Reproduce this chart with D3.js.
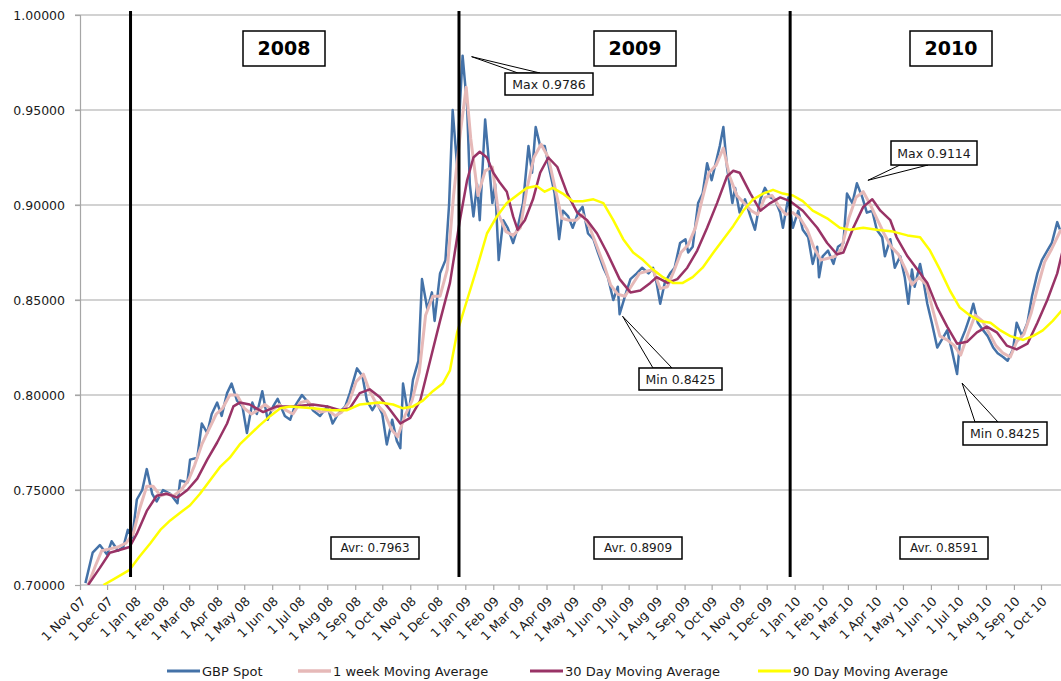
<!DOCTYPE html>
<html>
<head>
<meta charset="utf-8">
<script src="https://cdn.jsdelivr.net/npm/d3@7"></script>
<style>
  body { margin: 0; background: #fff; }
  svg { display: block; font-family: "DejaVu Sans", Verdana, sans-serif; }
</style>
</head>
<body>
<svg id="chart" width="1061" height="681"></svg>
<script>
// ── Data ──
const spot = [
  ["2007-11-07",0.701],["2007-11-15",0.717],["2007-11-23",0.721],["2007-12-01",0.716],["2007-12-06",0.723],
  ["2007-12-13",0.718],["2007-12-19",0.720],["2007-12-24",0.729],["2007-12-29",0.725],
  ["2008-01-03",0.745],["2008-01-09",0.750],["2008-01-14",0.761],["2008-01-20",0.748],["2008-01-25",0.744],
  ["2008-02-01",0.750],["2008-02-09",0.748],["2008-02-17",0.743],["2008-02-20",0.755],["2008-02-28",0.754],
  ["2008-03-02",0.766],["2008-03-10",0.767],["2008-03-15",0.785],["2008-03-21",0.780],["2008-03-26",0.790],
  ["2008-04-01",0.796],["2008-04-06",0.789],["2008-04-12",0.801],["2008-04-17",0.806],["2008-04-23",0.797],
  ["2008-04-29",0.794],["2008-05-04",0.780],["2008-05-10",0.796],["2008-05-15",0.790],["2008-05-21",0.802],
  ["2008-05-27",0.787],["2008-06-02",0.794],["2008-06-07",0.798],["2008-06-15",0.789],["2008-06-21",0.787],
  ["2008-06-26",0.794],["2008-07-04",0.800],["2008-07-11",0.796],["2008-07-16",0.792],["2008-07-24",0.789],
  ["2008-08-01",0.794],["2008-08-07",0.785],["2008-08-13",0.790],["2008-08-21",0.794],["2008-08-26",0.801],
  ["2008-09-03",0.814],["2008-09-09",0.810],["2008-09-14",0.797],["2008-09-20",0.792],["2008-09-25",0.796],
  ["2008-10-01",0.790],["2008-10-06",0.774],["2008-10-12",0.787],["2008-10-17",0.776],["2008-10-21",0.772],
  ["2008-10-24",0.806],["2008-10-30",0.789],["2008-11-04",0.808],["2008-11-10",0.818],["2008-11-14",0.861],
  ["2008-11-20",0.845],["2008-11-25",0.854],["2008-11-28",0.839],["2008-12-04",0.864],["2008-12-10",0.871],
  ["2008-12-14",0.900],["2008-12-18",0.950],["2008-12-23",0.920],["2008-12-26",0.952],["2008-12-29",0.9786],
  ["2009-01-03",0.952],["2009-01-06",0.911],["2009-01-10",0.894],["2009-01-14",0.911],["2009-01-17",0.892],
  ["2009-01-23",0.945],["2009-01-26",0.929],["2009-01-31",0.901],["2009-02-03",0.911],["2009-02-07",0.871],
  ["2009-02-12",0.892],["2009-02-17",0.888],["2009-02-23",0.880],["2009-02-28",0.888],["2009-03-06",0.901],
  ["2009-03-12",0.931],["2009-03-16",0.917],["2009-03-20",0.941],["2009-03-25",0.931],["2009-03-30",0.931],
  ["2009-04-05",0.917],["2009-04-10",0.906],["2009-04-15",0.882],["2009-04-19",0.897],["2009-04-25",0.894],
  ["2009-04-30",0.888],["2009-05-06",0.896],["2009-05-11",0.899],["2009-05-17",0.885],["2009-05-23",0.882],
  ["2009-05-28",0.875],["2009-06-03",0.867],["2009-06-08",0.862],["2009-06-14",0.850],["2009-06-19",0.857],
  ["2009-06-21",0.8425],["2009-06-27",0.852],["2009-07-03",0.861],["2009-07-10",0.864],["2009-07-16",0.867],
  ["2009-07-23",0.864],["2009-07-28",0.867],["2009-08-01",0.859],["2009-08-05",0.848],["2009-08-10",0.859],
  ["2009-08-16",0.864],["2009-08-21",0.867],["2009-08-27",0.880],["2009-09-02",0.882],["2009-09-05",0.875],
  ["2009-09-10",0.878],["2009-09-16",0.901],["2009-09-21",0.906],["2009-09-26",0.922],["2009-10-01",0.913],
  ["2009-10-07",0.925],["2009-10-10",0.931],["2009-10-14",0.941],["2009-10-18",0.920],["2009-10-24",0.901],
  ["2009-10-27",0.909],["2009-11-01",0.896],["2009-11-07",0.903],["2009-11-13",0.894],["2009-11-18",0.887],
  ["2009-11-24",0.903],["2009-11-29",0.909],["2009-12-05",0.904],["2009-12-10",0.903],["2009-12-16",0.896],
  ["2009-12-19",0.888],["2009-12-25",0.904],["2009-12-30",0.888],
  ["2010-01-05",0.897],["2010-01-10",0.887],["2010-01-16",0.883],["2010-01-21",0.869],["2010-01-26",0.878],
  ["2010-01-28",0.862],["2010-02-01",0.873],["2010-02-07",0.876],["2010-02-13",0.869],["2010-02-18",0.878],
  ["2010-02-24",0.880],["2010-02-28",0.906],["2010-03-06",0.901],["2010-03-11",0.9114],["2010-03-17",0.904],
  ["2010-03-22",0.896],["2010-03-28",0.897],["2010-04-02",0.887],["2010-04-08",0.883],["2010-04-11",0.873],
  ["2010-04-17",0.882],["2010-04-22",0.867],["2010-04-28",0.873],["2010-05-03",0.862],["2010-05-07",0.848],
  ["2010-05-11",0.866],["2010-05-14",0.857],["2010-05-20",0.869],["2010-05-23",0.862],["2010-05-28",0.848],
  ["2010-06-02",0.838],["2010-06-08",0.825],["2010-06-13",0.829],["2010-06-19",0.834],["2010-06-24",0.824],
  ["2010-06-30",0.811],["2010-07-03",0.827],["2010-07-09",0.834],["2010-07-14",0.841],["2010-07-18",0.848],
  ["2010-07-23",0.838],["2010-07-29",0.834],["2010-08-03",0.831],["2010-08-09",0.825],["2010-08-14",0.822],
  ["2010-08-20",0.820],["2010-08-25",0.818],["2010-08-31",0.824],["2010-09-04",0.838],["2010-09-10",0.831],
  ["2010-09-16",0.838],["2010-09-21",0.852],["2010-09-27",0.864],["2010-10-02",0.871],["2010-10-08",0.876],
  ["2010-10-13",0.880],["2010-10-19",0.891],["2010-10-22",0.887]
];

const weekMA = [
  ["2007-11-10",0.700],["2007-11-18",0.710],["2007-11-25",0.718],["2007-12-04",0.719],["2007-12-13",0.720],
  ["2007-12-22",0.722],["2007-12-30",0.727],["2008-01-06",0.740],["2008-01-14",0.752],["2008-01-21",0.752],
  ["2008-01-29",0.747],["2008-02-05",0.748],["2008-02-13",0.747],["2008-02-21",0.750],["2008-02-29",0.755],
  ["2008-03-07",0.763],["2008-03-15",0.774],["2008-03-23",0.782],["2008-03-31",0.790],["2008-04-07",0.793],
  ["2008-04-15",0.800],["2008-04-23",0.800],["2008-05-01",0.793],["2008-05-09",0.790],["2008-05-16",0.792],
  ["2008-05-24",0.795],["2008-06-01",0.792],["2008-06-09",0.795],["2008-06-16",0.792],["2008-06-24",0.790],
  ["2008-07-02",0.796],["2008-07-10",0.797],["2008-07-17",0.793],["2008-07-25",0.791],["2008-08-02",0.792],
  ["2008-08-10",0.789],["2008-08-17",0.791],["2008-08-25",0.796],["2008-09-02",0.807],["2008-09-10",0.811],
  ["2008-09-17",0.802],["2008-09-25",0.795],["2008-10-03",0.791],["2008-10-11",0.782],["2008-10-18",0.778],
  ["2008-10-26",0.789],["2008-11-03",0.797],["2008-11-11",0.812],["2008-11-18",0.842],["2008-11-26",0.852],
  ["2008-12-04",0.852],["2008-12-12",0.866],["2008-12-19",0.905],["2008-12-27",0.940],["2009-01-02",0.962],
  ["2009-01-07",0.935],["2009-01-15",0.905],["2009-01-23",0.918],["2009-01-31",0.920],["2009-02-07",0.895],
  ["2009-02-15",0.886],["2009-02-23",0.884],["2009-03-03",0.888],["2009-03-10",0.908],["2009-03-18",0.925],
  ["2009-03-26",0.932],["2009-04-03",0.925],["2009-04-10",0.910],["2009-04-18",0.893],["2009-04-26",0.892],
  ["2009-05-04",0.892],["2009-05-11",0.895],["2009-05-19",0.888],["2009-05-27",0.878],["2009-06-04",0.868],
  ["2009-06-11",0.858],["2009-06-19",0.853],["2009-06-27",0.852],["2009-07-05",0.858],["2009-07-13",0.864],
  ["2009-07-20",0.865],["2009-07-28",0.866],["2009-08-05",0.856],["2009-08-13",0.857],["2009-08-20",0.865],
  ["2009-08-28",0.875],["2009-09-05",0.879],["2009-09-13",0.888],["2009-09-20",0.902],["2009-09-28",0.917],
  ["2009-10-06",0.921],["2009-10-14",0.930],["2009-10-21",0.915],["2009-10-29",0.905],["2009-11-06",0.901],
  ["2009-11-14",0.897],["2009-11-21",0.895],["2009-11-29",0.904],["2009-12-07",0.905],["2009-12-15",0.899],
  ["2009-12-22",0.895],["2009-12-30",0.896],["2010-01-07",0.893],["2010-01-15",0.887],["2010-01-22",0.878],
  ["2010-01-30",0.871],["2010-02-07",0.872],["2010-02-15",0.873],["2010-02-22",0.877],["2010-03-02",0.893],
  ["2010-03-10",0.904],["2010-03-18",0.907],["2010-03-26",0.900],["2010-04-02",0.893],["2010-04-10",0.885],
  ["2010-04-18",0.878],["2010-04-26",0.874],["2010-05-03",0.867],["2010-05-11",0.858],["2010-05-19",0.862],
  ["2010-05-27",0.858],["2010-06-03",0.845],["2010-06-11",0.831],["2010-06-19",0.829],["2010-06-27",0.826],
  ["2010-07-04",0.821],["2010-07-12",0.832],["2010-07-20",0.842],["2010-07-28",0.839],["2010-08-04",0.833],
  ["2010-08-12",0.826],["2010-08-20",0.822],["2010-08-28",0.820],["2010-09-04",0.828],["2010-09-12",0.832],
  ["2010-09-20",0.843],["2010-09-28",0.858],["2010-10-05",0.870],["2010-10-13",0.877],["2010-10-23",0.887]
];

const ma30 = [
  ["2007-11-10",0.700],["2007-11-23",0.709],["2007-12-04",0.717],["2007-12-12",0.718],["2007-12-26",0.720],
  ["2008-01-03",0.727],["2008-01-14",0.739],["2008-01-25",0.747],["2008-02-05",0.748],["2008-02-17",0.746],
  ["2008-02-28",0.750],["2008-03-10",0.756],["2008-03-21",0.766],["2008-04-01",0.775],["2008-04-12",0.785],
  ["2008-04-19",0.794],["2008-04-26",0.796],["2008-05-07",0.795],["2008-05-22",0.791],["2008-06-06",0.794],
  ["2008-06-24",0.794],["2008-07-16",0.795],["2008-08-01",0.794],["2008-08-15",0.792],["2008-08-26",0.793],
  ["2008-09-06",0.801],["2008-09-17",0.803],["2008-09-28",0.799],["2008-10-10",0.792],["2008-10-21",0.785],
  ["2008-11-01",0.788],["2008-11-12",0.797],["2008-11-23",0.818],["2008-12-04",0.839],["2008-12-15",0.859],
  ["2008-12-26",0.892],["2009-01-03",0.913],["2009-01-10",0.925],["2009-01-17",0.928],["2009-01-25",0.925],
  ["2009-02-01",0.917],["2009-02-08",0.912],["2009-02-16",0.907],["2009-02-23",0.894],["2009-02-28",0.887],
  ["2009-03-08",0.892],["2009-03-17",0.903],["2009-03-25",0.917],["2009-04-03",0.925],["2009-04-13",0.920],
  ["2009-04-24",0.906],["2009-05-05",0.896],["2009-05-16",0.892],["2009-05-27",0.885],["2009-06-07",0.875],
  ["2009-06-21",0.861],["2009-07-03",0.854],["2009-07-14",0.855],["2009-07-25",0.859],["2009-08-01",0.862],
  ["2009-08-13",0.859],["2009-08-24",0.861],["2009-09-04",0.867],["2009-09-15",0.876],["2009-09-26",0.888],
  ["2009-10-07",0.901],["2009-10-18",0.915],["2009-10-25",0.918],["2009-11-01",0.917],["2009-11-13",0.906],
  ["2009-11-24",0.897],["2009-12-05",0.901],["2009-12-16",0.904],["2009-12-27",0.902],["2010-01-10",0.897],
  ["2010-01-26",0.888],["2010-02-06",0.880],["2010-02-17",0.874],["2010-02-24",0.875],["2010-03-07",0.888],
  ["2010-03-18",0.899],["2010-03-28",0.903],["2010-04-06",0.897],["2010-04-17",0.892],["2010-04-24",0.883],
  ["2010-05-06",0.873],["2010-05-17",0.866],["2010-05-28",0.859],["2010-06-08",0.846],["2010-06-19",0.836],
  ["2010-06-30",0.827],["2010-07-11",0.828],["2010-07-22",0.833],["2010-08-02",0.836],["2010-08-13",0.833],
  ["2010-08-24",0.826],["2010-09-04",0.824],["2010-09-16",0.827],["2010-09-27",0.838],["2010-10-08",0.850],
  ["2010-10-19",0.864],["2010-10-25",0.876]
];

const ma90 = [
  ["2007-11-27",0.700],["2007-12-08",0.703],["2007-12-26",0.708],["2008-01-06",0.715],["2008-01-18",0.722],
  ["2008-01-29",0.729],["2008-02-09",0.734],["2008-02-20",0.738],["2008-03-02",0.742],["2008-03-13",0.748],
  ["2008-03-24",0.755],["2008-04-04",0.762],["2008-04-15",0.767],["2008-04-26",0.774],["2008-05-07",0.779],
  ["2008-05-18",0.784],["2008-05-30",0.789],["2008-06-10",0.793],["2008-06-21",0.794],["2008-07-16",0.793],
  ["2008-08-07",0.792],["2008-08-23",0.792],["2008-09-06",0.795],["2008-09-28",0.796],["2008-10-13",0.795],
  ["2008-10-24",0.793],["2008-11-04",0.794],["2008-11-15",0.797],["2008-11-26",0.802],["2008-12-07",0.806],
  ["2008-12-15",0.813],["2008-12-23",0.833],["2009-01-03",0.850],["2009-01-14",0.867],["2009-01-25",0.885],
  ["2009-02-05",0.894],["2009-02-16",0.901],["2009-02-27",0.905],["2009-03-10",0.909],["2009-03-21",0.910],
  ["2009-03-30",0.907],["2009-04-08",0.909],["2009-04-19",0.906],["2009-04-30",0.902],["2009-05-11",0.902],
  ["2009-05-23",0.903],["2009-06-03",0.901],["2009-06-14",0.892],["2009-06-25",0.882],["2009-07-06",0.875],
  ["2009-07-17",0.871],["2009-07-28",0.866],["2009-08-08",0.862],["2009-08-19",0.859],["2009-08-30",0.859],
  ["2009-09-10",0.862],["2009-09-21",0.867],["2009-10-03",0.875],["2009-10-14",0.882],["2009-10-25",0.889],
  ["2009-11-05",0.897],["2009-11-16",0.903],["2009-11-27",0.906],["2009-12-08",0.908],["2009-12-19",0.906],
  ["2009-12-30",0.905],["2010-01-10",0.902],["2010-01-21",0.897],["2010-02-06",0.893],["2010-02-20",0.888],
  ["2010-03-03",0.887],["2010-03-18",0.888],["2010-04-02",0.887],["2010-04-20",0.886],["2010-05-06",0.884],
  ["2010-05-20",0.883],["2010-05-31",0.876],["2010-06-11",0.866],["2010-06-22",0.855],["2010-07-03",0.846],
  ["2010-07-14",0.842],["2010-07-25",0.839],["2010-08-06",0.838],["2010-08-17",0.834],["2010-08-28",0.831],
  ["2010-09-11",0.829],["2010-09-22",0.831],["2010-10-03",0.834],["2010-10-14",0.839],["2010-10-25",0.845]
];

const seriesNames = ["GBP Spot", "1 week Moving Average", "30 Day Moving Average", "90 Day Moving Average"];
const yTicks = [0.70, 0.75, 0.80, 0.85, 0.90, 0.95, 1.00];
const yearLabels = ["2008", "2009", "2010"];
const yearDividers = ["2007-12-27", "2008-12-25", "2009-12-27"];
const averageLabels = ["Avr: 0.7963", "Avr. 0.8909", "Avr. 0.8591"];
const callouts = [
  { label: "Max 0.9786", date: "2008-12-29", value: 0.9786 },
  { label: "Max 0.9114", date: "2010-03-11", value: 0.9114 },
  { label: "Min 0.8425", date: "2009-06-21", value: 0.8425 },
  { label: "Min 0.8425", date: "2010-06-30", value: 0.811 }
];

// ── Layout ──
const W = 1061, H = 681;
const plotLeft = 80, plotTop = 15, plotBottom = 585;
const colors = ["#4472A8", "#E6B9B8", "#993366", "#FFFF00"];
const widths = [2.5, 3, 2.5, 2.5];
const yearBoxX = [284, 635, 951];
const avgBoxX = [375, 638, 944];
const calloutLayout = [
  { dx: 9, dy: 1, box: [505, 73, 88, 22], base: [518, 540] },
  { dx: 11, dy: -3, box: [891, 141, 86, 24], base: [900, 928] },
  { dx: 3, dy: 2, box: [639, 368, 83, 22], base: [653, 672] },
  { dx: 5, dy: 9, box: [963, 422, 84, 23], base: [975, 998] }
];
const legendX = [167, 298, 530, 758];

const parse = d3.timeParse("%Y-%m-%d");
const svg = d3.select("#chart");

const x = d3.scaleTime()
  .domain([parse("2007-11-01"), parse("2010-10-01")])
  .range([plotLeft, 1041]);
const y = d3.scaleLinear().domain([0.70, 1.00]).range([plotBottom, plotTop]);

// ── Gridlines ──
svg.append("g")
  .selectAll("line")
  .data(yTicks.filter(v => v > 0.70))
  .join("line")
  .attr("x1", plotLeft - 5).attr("x2", W)
  .attr("y1", d => y(d)).attr("y2", d => y(d))
  .attr("stroke", "#A6A6A6").attr("stroke-width", 1.2);

// ── Y axis ──
const yAxis = svg.append("g")
  .attr("transform", `translate(${plotLeft},0)`)
  .call(d3.axisLeft(y).tickValues(yTicks).tickSize(5).tickFormat(d3.format(".5f")));
yAxis.select(".domain").attr("stroke", "#A6A6A6").attr("stroke-width", 1.2);
yAxis.selectAll(".tick line").attr("stroke", "#A6A6A6").attr("stroke-width", 1.2);
yAxis.selectAll("text")
  .attr("x", -15)
  .attr("font-size", 12.5)
  .attr("font-family", "DejaVu Sans, sans-serif")
  .attr("fill", "#1a1a1a");

// ── X axis ──
const monthTicks = d3.timeMonth.range(parse("2007-11-01"), parse("2010-10-02"));
const xAxis = svg.append("g")
  .attr("transform", `translate(0,${plotBottom})`)
  .call(d3.axisBottom(x).tickValues(monthTicks).tickSize(5).tickFormat(d3.timeFormat("%-d %b %y")));
xAxis.select(".domain").remove();
xAxis.append("line")
  .attr("x1", plotLeft).attr("x2", W).attr("y1", 0).attr("y2", 0)
  .attr("stroke", "#A6A6A6").attr("stroke-width", 1.2);
xAxis.selectAll(".tick line").attr("stroke", "#A6A6A6").attr("stroke-width", 1.2);
xAxis.selectAll("text")
  .attr("x", 0).attr("y", 0).attr("dy", "0.35em")
  .attr("text-anchor", "end")
  .attr("transform", "translate(3,14) rotate(-45)")
  .attr("font-size", 12.5)
  .attr("font-family", "DejaVu Sans, sans-serif")
  .attr("fill", "#1a1a1a");

// ── Series lines ──
svg.append("clipPath").attr("id", "plotClip")
  .append("rect").attr("x", plotLeft).attr("y", plotTop)
  .attr("width", W - plotLeft).attr("height", plotBottom - plotTop);

const line = d3.line()
  .x(d => x(parse(d[0])))
  .y(d => y(d[1]));

const plot = svg.append("g").attr("clip-path", "url(#plotClip)");
[spot, weekMA, ma30, ma90].forEach((series, i) => {
  plot.append("path")
    .datum(series)
    .attr("d", line)
    .attr("fill", "none")
    .attr("stroke", colors[i])
    .attr("stroke-width", widths[i])
    .attr("stroke-linejoin", "round");
});

// ── Year dividers ──
svg.append("g")
  .selectAll("line")
  .data(yearDividers)
  .join("line")
  .attr("x1", d => x(parse(d))).attr("x2", d => x(parse(d)))
  .attr("y1", 11).attr("y2", 577)
  .attr("stroke", "#000").attr("stroke-width", 3);

// ── Year boxes ──
const yearG = svg.append("g")
  .selectAll("g")
  .data(yearLabels)
  .join("g")
  .attr("transform", (d, i) => `translate(${yearBoxX[i]},48)`);
yearG.append("rect")
  .attr("x", -41).attr("y", -17).attr("width", 82).attr("height", 35)
  .attr("fill", "#fff").attr("stroke", "#000").attr("stroke-width", 1.5);
yearG.append("text")
  .attr("text-anchor", "middle").attr("dy", "0.36em")
  .attr("font-size", 19).attr("font-weight", "bold")
  .text(d => d);

// ── Average boxes ──
const avgG = svg.append("g")
  .selectAll("g")
  .data(averageLabels)
  .join("g")
  .attr("transform", (d, i) => `translate(${avgBoxX[i]},548)`);
avgG.append("rect")
  .attr("x", -44).attr("y", -11).attr("width", 88).attr("height", 22)
  .attr("fill", "#fff").attr("stroke", "#000").attr("stroke-width", 1.5);
avgG.append("text")
  .attr("text-anchor", "middle").attr("dy", "0.36em")
  .attr("font-size", 12).attr("fill", "#1a1a1a")
  .text(d => d);

// ── Callouts ──
callouts.forEach((c, i) => {
  const lay = calloutLayout[i];
  const tx = x(parse(c.date)) + lay.dx;
  const ty = y(c.value) + lay.dy;
  const [bx, by, bw, bh] = lay.box;
  const edgeY = ty < by ? by : by + bh;
  const g = svg.append("g");
  g.append("path")
    .attr("d", `M${tx},${ty}L${lay.base[0]},${edgeY}L${lay.base[1]},${edgeY}Z`)
    .attr("fill", "#fff").attr("stroke", "#000").attr("stroke-width", 1);
  g.append("rect")
    .attr("x", bx).attr("y", by).attr("width", bw).attr("height", bh)
    .attr("fill", "#fff").attr("stroke", "#000").attr("stroke-width", 1.5);
  g.append("text")
    .attr("x", bx + bw / 2).attr("y", by + bh / 2)
    .attr("text-anchor", "middle").attr("dy", "0.36em")
    .attr("font-size", 12.5).attr("fill", "#1a1a1a")
    .text(c.label);
});

// ── Legend ──
const legend = svg.append("g")
  .selectAll("g")
  .data(seriesNames)
  .join("g")
  .attr("transform", (d, i) => `translate(${legendX[i]},671)`);
legend.append("line")
  .attr("x1", 0).attr("x2", 33).attr("y1", 0).attr("y2", 0)
  .attr("stroke", (d, i) => colors[i])
  .attr("stroke-width", (d, i) => widths[i] + 0.5);
legend.append("text")
  .attr("x", 35).attr("dy", "0.36em")
  .attr("font-size", 13).attr("fill", "#1a1a1a")
  .text(d => d);
</script>
</body>
</html>
